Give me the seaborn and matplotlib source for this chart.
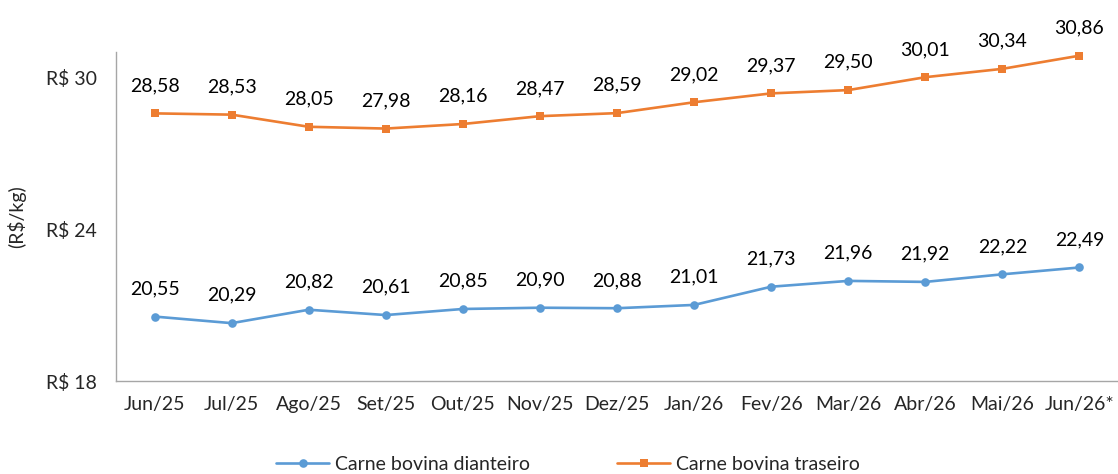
import pandas as pd
import numpy as np
import matplotlib.pyplot as plt
import seaborn as sns

# =========================
# DATA
# =========================
months = ["Jun/25", "Jul/25", "Ago/25", "Set/25", "Out/25", "Nov/25", "Dez/25",
          "Jan/26", "Fev/26", "Mar/26", "Abr/26", "Mai/26", "Jun/26*"]
dianteiro = [20.55, 20.29, 20.82, 20.61, 20.85, 20.90, 20.88,
             21.01, 21.73, 21.96, 21.92, 22.22, 22.49]
traseiro = [28.58, 28.53, 28.05, 27.98, 28.16, 28.47, 28.59,
            29.02, 29.37, 29.50, 30.01, 30.34, 30.86]
series_names = ["Carne bovina dianteiro", "Carne bovina traseiro"]

df = pd.DataFrame({
    "mes": months * 2,
    "pos": list(range(len(months))) * 2,
    "preco": dianteiro + traseiro,
    "serie": [series_names[0]] * len(months) + [series_names[1]] * len(months),
})

# =========================
# STYLE
# =========================
sns.set_style("white")
plt.rcParams["font.family"] = ["Lato", "DejaVu Sans"]
fs = 14

palette = {series_names[0]: "#5B9BD5", series_names[1]: "#ED7D31"}
markers = {series_names[0]: "o", series_names[1]: "s"}

fig = plt.figure(figsize=(11.18, 4.74), dpi=100)
ax = fig.add_axes([0.1038, 0.196, 0.8962, 0.694])

sns.lineplot(data=df, x="pos", y="preco", hue="serie", style="serie",
             palette=palette, markers=markers, dashes=False,
             linewidth=1.9, markersize=6.2, markeredgewidth=0, ax=ax)

# data labels
for name, vals in zip(series_names, [dianteiro, traseiro]):
    for i, v in enumerate(vals):
        ax.annotate(f"{v:.2f}".replace(".", ","), (i, v), xytext=(0, 20),
                    textcoords="offset points", ha="center", va="center",
                    fontsize=fs, color="#000000")

ax.set_xlim(-0.5, len(months) - 0.5)
ax.set_ylim(18, 31)
ax.set_xticks(range(len(months)))
ax.set_xticklabels(months, fontsize=fs)
ax.set_yticks([18, 24, 30])
ax.set_yticklabels(["R$ 18", "R$ 24", "R$ 30"], fontsize=fs)
ax.tick_params(axis="x", length=0, pad=11)
ax.tick_params(axis="y", length=0, pad=14)
ax.set_xlabel("")
ax.set_ylabel("(R$/kg)", fontsize=fs, labelpad=14)

for side in ["top", "right"]:
    ax.spines[side].set_visible(False)
for side in ["left", "bottom"]:
    ax.spines[side].set_color("#A6A6A6")
    ax.spines[side].set_linewidth(1)

handles, labels = ax.get_legend_handles_labels()
ax.get_legend().remove()
fig.legend(handles, labels, loc="center", bbox_to_anchor=(0.508, 0.02),
           ncol=2, frameon=False, fontsize=fs, handlelength=2.7,
           columnspacing=4.5, handletextpad=0.3)

plt.savefig("out.png", dpi=100)
